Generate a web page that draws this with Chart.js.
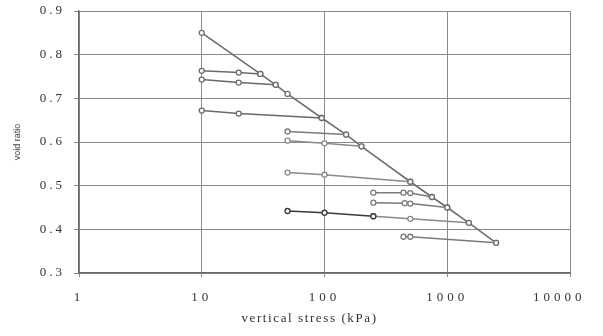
<!DOCTYPE html>
<html>
<head>
<meta charset="utf-8">
<script src="https://cdn.jsdelivr.net/npm/chart.js@4"></script>
<style>
  html, body { margin: 0; padding: 0; background: #fff; }
  #wrap { width: 603px; height: 336px; }
</style>
</head>
<body>
<div id="wrap"><canvas id="myChart" width="603" height="336"></canvas></div>
<script>
// virgin compression line
const virginStress = [10, 30, 40, 50, 95, 150, 200, 500, 750, 1000, 1500, 2500];
const virginVoid = [0.85, 0.756, 0.731, 0.71, 0.655, 0.617, 0.59, 0.509, 0.474, 0.45, 0.415, 0.369];

// unload / reload lines
const loopStress = [
    [10, 20, 30],
    [10, 20, 40],
    [10, 20, 95],
    [50, 150],
    [50, 100, 200],
    [50, 100, 500],
    [50, 100, 250],
    [250, 500, 1500],
    [250, 440, 500, 750],
    [250, 450, 500, 1000],
    [440, 500, 2500]
];
const loopVoid = [
    [0.763, 0.759, 0.756],
    [0.743, 0.736, 0.731],
    [0.672, 0.665, 0.655],
    [0.624, 0.617],
    [0.603, 0.597, 0.59],
    [0.53, 0.525, 0.509],
    [0.442, 0.438, 0.43],
    [0.43, 0.424, 0.415],
    [0.484, 0.484, 0.483, 0.474],
    [0.461, 0.46, 0.459, 0.45],
    [0.383, 0.383, 0.369]
];
const loopColors = ['#6a6a6a', '#6a6a6a', '#6a6a6a', '#7a7a7a', '#8a8a8a', '#8a8a8a',
    '#3a3a3a', '#8a8a8a', '#7a7a7a', '#7a7a7a', '#7a7a7a'];

const xTicks = [1, 10, 100, 1000, 10000];
const yTicks = [0.3, 0.4, 0.5, 0.6, 0.7, 0.8, 0.9];

function toPoints(xs, ys) {
    return xs.map((x, i) => ({ x: x, y: ys[i] }));
}

let datasets = [{
    data: toPoints(virginStress, virginVoid),
    borderColor: '#6e6e6e',
    borderWidth: 1.6,
    pointRadius: 2.5,
    pointBorderColor: '#6e6e6e',
    pointBackgroundColor: '#fff',
    pointBorderWidth: 1.3,
    showLine: true
}];

loopStress.forEach((xs, i) => {
    datasets.push({
        data: toPoints(xs, loopVoid[i]),
        borderColor: loopColors[i],
        borderWidth: 1.5,
        pointRadius: 2.5,
        pointBorderColor: loopColors[i],
        pointBackgroundColor: '#fff',
        pointBorderWidth: 1.3,
        showLine: true
    });
});

const serif = "'Liberation Serif', 'DejaVu Serif', serif";

// scanned figure has wide letter spacing on the axis text
function spaced(fn, spacing, shiftX) {
    return function () {
        const ctx = this.ctx;
        ctx.save();
        ctx.letterSpacing = spacing;
        if (shiftX) ctx.translate(shiftX, 0);
        fn.apply(this, arguments);
        ctx.restore();
    };
}

const spacingPlugin = {
    id: 'spacing',
    beforeDraw(chart) {
        const x = chart.scales.x, y = chart.scales.y;
        if (x._spaced) return;
        const proto = Object.getPrototypeOf(x);
        x.drawLabels = spaced(proto.drawLabels, '4px');
        x.drawTitle = spaced(proto.drawTitle, '1.6px', -15);
        y.drawLabels = spaced(proto.drawLabels, '3px');
        x._spaced = true;
    }
};

// fixed plot box, no extra room for label overflow
function fixX(scale) {
    scale.height = 63;
    scale.paddingLeft = 0;
    scale.paddingRight = 0;
}
function fixY(scale) {
    scale.width = 79;
    scale.paddingTop = 0;
    scale.paddingBottom = 0;
}

const config = {
    type: 'scatter',
    data: { datasets: datasets },
    options: {
        responsive: false,
        animation: false,
        layout: { padding: { left: 0, top: 11, right: 33, bottom: 0 } },
        plugins: {
            legend: { display: false },
            tooltip: { enabled: false }
        },
        scales: {
            x: {
                type: 'logarithmic',
                min: 1,
                max: 10000,
                afterBuildTicks: (scale) => { scale.ticks = xTicks.map(v => ({ value: v })); },
                afterFit: fixX,
                ticks: {
                    color: '#333',
                    font: { family: serif, size: 13 },
                    padding: 13,
                    maxRotation: 0,
                    // last label sits a little left of its gridline in the figure
                    callback: (v) => v === 10000 ? '10000   ' : String(v)
                },
                grid: { color: '#8a8a8a', lineWidth: 1, tickLength: 4 },
                border: { color: '#666', width: 1.2 },
                title: {
                    display: true,
                    text: 'vertical stress (kPa)',
                    color: '#333',
                    font: { family: serif, size: 13 },
                    padding: { top: 0, bottom: 10 }
                }
            },
            y: {
                min: 0.3,
                max: 0.9,
                afterBuildTicks: (scale) => { scale.ticks = yTicks.map(v => ({ value: v })); },
                afterFit: fixY,
                ticks: {
                    color: '#333',
                    font: { family: serif, size: 13 },
                    padding: 9,
                    callback: (v) => v.toFixed(1)
                },
                grid: { color: '#8a8a8a', lineWidth: 1, tickLength: 5 },
                border: { color: '#666', width: 1.2 },
                title: {
                    display: true,
                    text: 'void ratio',
                    color: '#444',
                    font: { family: "'Liberation Sans', sans-serif", size: 9 },
                    padding: { top: 12, bottom: 0 }
                }
            }
        }
    },
    plugins: [spacingPlugin]
};

const myChart = new Chart(document.getElementById('myChart'), config);
</script>
</body>
</html>
